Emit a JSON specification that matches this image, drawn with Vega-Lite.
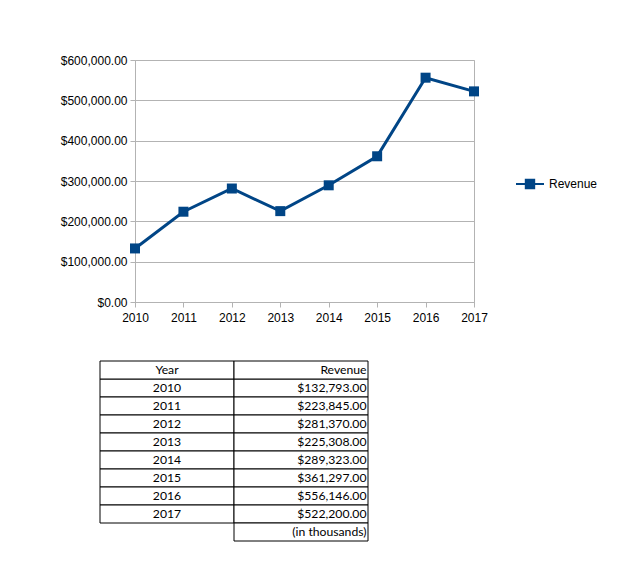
{
  "$schema": "https://vega.github.io/schema/vega-lite/v6.json",
  "background": "white",
  "padding": {"left": 59, "top": 53, "right": 0, "bottom": 0},
  "spacing": 36,
  "config": {"view": {"stroke": null}, "font": "Liberation Sans"},
  "datasets": {
    "revenue": [
      {"Year": 2010, "Revenue": 132793},
      {"Year": 2011, "Revenue": 223845},
      {"Year": 2012, "Revenue": 281370},
      {"Year": 2013, "Revenue": 225308},
      {"Year": 2014, "Revenue": 289323},
      {"Year": 2015, "Revenue": 361297},
      {"Year": 2016, "Revenue": 556146},
      {"Year": 2017, "Revenue": 522200}
    ],
    "headers": [
      {"Year": "Year", "col": "Year", "label": "Year"},
      {"Year": "Year", "col": "Revenue", "label": "Revenue"},
      {"Year": "note", "col": "Revenue", "label": "(in thousands)"}
    ]
  },
  "vconcat": [
    {
      "width": 339,
      "height": 242,
      "view": {"stroke": "#b3b3b3", "strokeWidth": 1},
      "data": {"name": "revenue"},
      "encoding": {
        "x": {
          "field": "Year",
          "type": "ordinal",
          "scale": {"type": "point", "padding": 0},
          "axis": {
            "title": null,
            "labelAngle": 0,
            "labelFont": "Liberation Sans",
            "labelFontSize": 12,
            "labelColor": "#000000",
            "labelPadding": 5,
            "domainColor": "#b3b3b3",
            "tickColor": "#b3b3b3",
            "tickSize": 5,
            "grid": false
          }
        },
        "y": {
          "field": "Revenue",
          "type": "quantitative",
          "scale": {"domain": [0, 600000], "nice": false},
          "axis": {
            "title": null,
            "values": [0, 100000, 200000, 300000, 400000, 500000, 600000],
            "format": "$,.2f",
            "labelFont": "Liberation Sans",
            "labelFontSize": 12,
            "labelColor": "#000000",
            "labelPadding": 3,
            "domainColor": "#b3b3b3",
            "tickColor": "#b3b3b3",
            "tickSize": 5,
            "gridColor": "#b3b3b3",
            "gridWidth": 1
          }
        },
        "color": {
          "datum": "Revenue",
          "type": "nominal",
          "scale": {"range": ["#004586"]},
          "legend": {
            "title": null,
            "orient": "none",
            "legendX": 380,
            "legendY": 109,
            "labelFont": "Liberation Sans",
            "labelFontSize": 12,
            "labelColor": "#000000",
            "labelOffset": 4,
            "symbolType": "M-1,0H1M-0.3,-0.3H0.3V0.3H-0.3Z",
            "symbolSize": 784,
            "symbolStrokeWidth": 2,
            "symbolFillColor": "#004586",
            "symbolStrokeColor": "#004586"
          }
        }
      },
      "layer": [
        {"mark": {"type": "line", "strokeWidth": 3}},
        {"mark": {"type": "point", "shape": "square", "filled": true, "size": 100, "opacity": 1}}
      ]
    },
    {
      "width": 233,
      "height": 180,
      "encoding": {
        "y": {
          "field": "Year",
          "type": "ordinal",
          "scale": {
            "domain": ["Year", 2010, 2011, 2012, 2013, 2014, 2015, 2016, 2017, "note"],
            "paddingInner": 0,
            "paddingOuter": 0
          },
          "axis": null
        }
      },
      "layer": [
        {
          "data": {"name": "revenue"},
          "transform": [{"fold": ["Year", "Revenue"], "as": ["col", "v"]}],
          "mark": {"type": "rect", "fill": "white", "stroke": "#000000", "strokeWidth": 1},
          "encoding": {
            "x": {
              "field": "col",
              "type": "nominal",
              "scale": {"domain": ["Year", "Revenue"], "range": [-35, 233], "paddingInner": 0, "paddingOuter": 0},
              "axis": null
            }
          }
        },
        {
          "data": {"name": "headers"},
          "mark": {"type": "rect", "fill": "white", "stroke": "#000000", "strokeWidth": 1},
          "encoding": {"x": {"field": "col", "type": "nominal"}}
        },
        {
          "data": {"name": "revenue"},
          "mark": {"type": "text", "align": "center", "baseline": "middle", "font": "Lato", "fontSize": 12.2, "color": "#000000"},
          "encoding": {
            "x": {"datum": "Year", "type": "nominal"},
            "text": {"field": "Year", "type": "ordinal"}
          }
        },
        {
          "data": {"name": "revenue"},
          "mark": {"type": "text", "align": "right", "baseline": "middle", "dx": -1.5, "font": "Lato", "fontSize": 12.2, "color": "#000000"},
          "encoding": {
            "x": {"datum": "Revenue", "type": "nominal", "bandPosition": 1},
            "text": {"field": "Revenue", "type": "quantitative", "format": "$,.2f"}
          }
        },
        {
          "data": {"name": "headers"},
          "transform": [{"filter": "datum.col === 'Year'"}],
          "mark": {"type": "text", "align": "center", "baseline": "middle", "font": "Lato", "fontSize": 12.2, "color": "#000000"},
          "encoding": {
            "x": {"field": "col", "type": "nominal"},
            "text": {"field": "label", "type": "nominal"}
          }
        },
        {
          "data": {"name": "headers"},
          "transform": [{"filter": "datum.col === 'Revenue'"}],
          "mark": {"type": "text", "align": "right", "baseline": "middle", "dx": -1.5, "font": "Lato", "fontSize": 12.2, "color": "#000000"},
          "encoding": {
            "x": {"field": "col", "type": "nominal", "bandPosition": 1},
            "text": {"field": "label", "type": "nominal"}
          }
        }
      ]
    }
  ]
}
